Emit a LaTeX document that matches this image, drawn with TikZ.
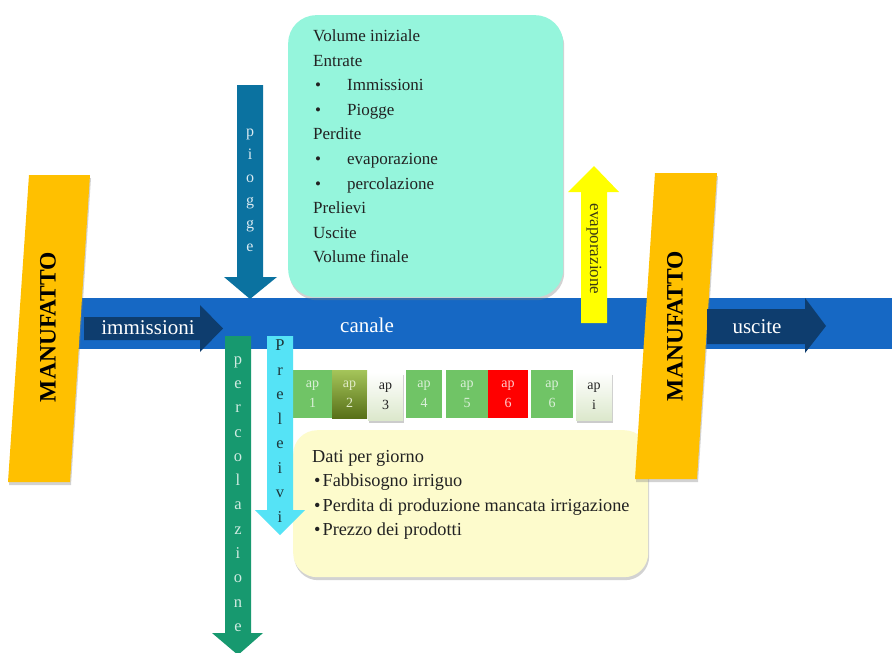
\documentclass[tikz,border=0pt]{standalone}
\usepackage{fontspec}
\setmainfont{Liberation Serif}
\usetikzlibrary{shadows}
\definecolor{canalc}{HTML}{1668C4}
\definecolor{navyc}{HTML}{0E3D6E}
\definecolor{piogc}{HTML}{0B72A0}
\definecolor{mintc}{HTML}{95F5DC}
\definecolor{evapc}{HTML}{FFFF00}
\definecolor{orngc}{HTML}{FFC000}
\definecolor{percc}{HTML}{17996F}
\definecolor{prelc}{HTML}{55E3F6}
\definecolor{apgc}{HTML}{70C466}
\definecolor{creamc}{HTML}{FDFBCC}
\definecolor{aplc}{HTML}{DCE8CC}
\definecolor{txtc}{HTML}{222222}
\definecolor{oltop}{HTML}{A5C55A}
\definecolor{olbot}{HTML}{587018}
\definecolor{oltxt}{HTML}{E1EBC8}
\definecolor{redtxt}{HTML}{FFCDCD}
\definecolor{evtxt}{HTML}{3C3C14}
\definecolor{preltxt}{HTML}{1E373C}
\begin{document}
\begin{tikzpicture}[x=1pt,y=-1pt,
  softshadow/.style={drop shadow={opacity=0.35,shadow xshift=1pt,shadow yshift=-3pt}},
  roundbox/.style={draw=none,rounded corners=28pt,inner sep=0pt,anchor=north west,softshadow},
  manuf/.style={fill=orngc,softshadow},
  manuftext/.style={font=\fontsize{23.5}{26}\selectfont\bfseries,text=black,rotate=90},
  flowtext/.style={font=\fontsize{21}{24}\selectfont,text=white},
  stack/.style={align=center,inner sep=0pt},
  apbox/.style={minimum height=48pt,inner sep=0pt,align=center,font=\fontsize{14}{20}\selectfont},
  apgreen/.style={apbox,fill=apgc,text=apgc!25!white},
  aplight/.style={apbox,top color=white,bottom color=aplc,text=txtc,drop shadow={opacity=0.4,shadow xshift=1pt,shadow yshift=-3pt}},
  boxtext/.style={anchor=north west,align=left,inner sep=0pt,text=txtc}
]
\useasboundingbox[fill=white] (0,0) rectangle (892,653);

% canal band
\node[fill=canalc,minimum width=822pt,minimum height=51pt,inner sep=0pt,anchor=north west] (canal) at (70,298) {};
\node[flowtext] (canaletxt) at (367,325) {canale};

% top balance box
\node[roundbox,fill=mintc,minimum width=275pt,minimum height=282pt] (bilancio) at (288,15) {};
\node[boxtext,font=\fontsize{17}{24.6}\selectfont] (bilanciotxt) at (313,29.5) {Volume iniziale\\
Entrate\\
\hspace*{2pt}\makebox[32pt][l]{\textbullet}Immissioni\\
\hspace*{2pt}\makebox[32pt][l]{\textbullet}Piogge\\
Perdite\\
\hspace*{2pt}\makebox[32pt][l]{\textbullet}evaporazione\\
\hspace*{2pt}\makebox[32pt][l]{\textbullet}percolazione\\
Prelievi\\
Uscite\\
Volume finale};

% bottom data box
\node[roundbox,fill=creamc,rounded corners=24pt,minimum width=355pt,minimum height=147pt] (dati) at (293,430) {};
\node[boxtext,font=\fontsize{18.3}{24.5}\selectfont] (datitxt) at (312,450) {Dati per giorno\\
\hspace*{2pt}\textbullet\hspace{2pt}Fabbisogno irriguo\\
\hspace*{2pt}\textbullet\hspace{2pt}Perdita di produzione mancata irrigazione\\
\hspace*{2pt}\textbullet\hspace{2pt}Prezzo dei prodotti};

% ap boxes
\node[apgreen,minimum width=39pt] (ap1) at (312.5,394) {ap\\1};
\node[apbox,minimum width=35pt,top color=oltop,bottom color=olbot,text=oltxt] (ap2) at (349.5,394) {ap\\2};
\node[aplight,minimum width=35pt] (ap3) at (385.5,396) {ap\\3};
\node[apgreen,minimum width=36pt] (ap4) at (424,394) {ap\\4};
\node[apgreen,minimum width=42pt] (ap5) at (467,394) {ap\\5};
\node[apbox,minimum width=40pt,fill=red,text=redtxt] (ap6) at (508,394) {ap\\6};
\node[apgreen,minimum width=42pt] (ap6b) at (552,394) {ap\\6};
\node[aplight,minimum width=36pt] (api) at (594,396) {ap\\i};

% manufatti
\path[manuf] (29,175) -- (90,175) -- (70,482) -- (8,482) -- cycle;
\node[manuftext] (manufL) at (48,327) {MANUFATTO};
\path[manuf] (655,173) -- (717,173) -- (697,479) -- (635,479) -- cycle;
\node[manuftext] (manufR) at (675,326) {MANUFATTO};

% immissioni arrow
\fill[navyc] (84,317) -- (200,317) -- (200,305) -- (223,328.5) -- (200,352) -- (200,340) -- (84,340) -- cycle;
\node[flowtext] (immtxt) at (148,328) {immissioni};

% uscite arrow
\fill[navyc] (707,309) -- (805,309) -- (805,298) -- (826,326) -- (805,353) -- (805,344) -- (707,344) -- cycle;
\node[flowtext] (uscitetxt) at (757,327) {uscite};

% piogge arrow
\fill[piogc] (237,85) -- (263,85) -- (263,277) -- (277,277) -- (250,299) -- (224,277) -- (237,277) -- cycle;
\node[stack,font=\fontsize{16}{23}\selectfont,text=white!85!piogc] (piogge) at (250,190) {p\\i\\o\\g\\g\\e};

% evaporazione arrow
\fill[evapc] (581,323) -- (581,192) -- (568,192) -- (594,166) -- (619,192) -- (607,192) -- (607,323) -- cycle;
\node[font=\fontsize{17}{20}\selectfont,text=evtxt,rotate=-90] (evaptxt) at (594,249) {evaporazione};

% percolazione arrow
\fill[percc] (225,336) -- (251,336) -- (251,633) -- (263,633) -- (238,655) -- (212,633) -- (225,633) -- cycle;
\node[stack,font=\fontsize{16.5}{24.3}\selectfont,text=white!80!percc] (perc) at (238,494) {p\\e\\r\\c\\o\\l\\a\\z\\i\\o\\n\\e};

% prelievi arrow
\fill[prelc] (267,336) -- (293,336) -- (293,510) -- (305,510) -- (280,535) -- (255,510) -- (267,510) -- cycle;
\node[stack,font=\fontsize{16.5}{24.5}\selectfont,text=preltxt] (prel) at (280,431) {P\\r\\e\\l\\e\\i\\v\\i};
\end{tikzpicture}
\end{document}
